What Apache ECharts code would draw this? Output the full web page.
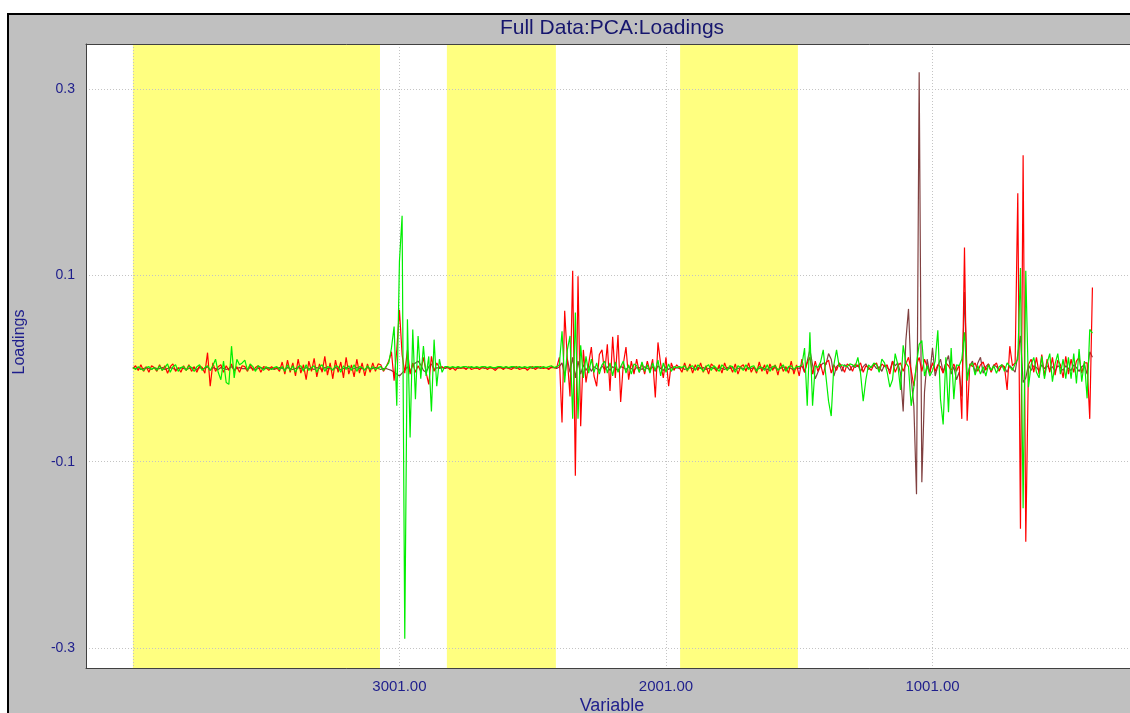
<!DOCTYPE html>
<html>
<head>
<meta charset="utf-8">
<title>Full Data:PCA:Loadings</title>
<script src="https://cdn.jsdelivr.net/npm/echarts@6/dist/echarts.min.js"></script>
<style>
  html, body { margin: 0; padding: 0; background: #ffffff; }
  #chart { width: 1130px; height: 713px; }
</style>
</head>
<body>
<div id="chart"></div>
<script>
// Variables run from 4001 down to 401 in steps of 10.
const firstVariable = 4001;
const variableStep = 10;

// Tick positions on the variable axis and on the loadings axis.
const xGridValues = [4001, 3001, 2001, 1001];
const xLabelValues = [3001, 2001, 1001];
const yTickValues = [-0.3, -0.1, 0.1, 0.3];

// Excluded (shaded) variable ranges.
const excludedRanges = [[4001, 3074], [2823, 2414], [1948, 1506]];

// Loadings, one value per variable (red component).
const loadingRed = [
  0.000, 0.003, -0.002, 0.004, -0.003, 0.002, -0.004, 0.003, 0.001, -0.003,
  0.004, -0.002, 0.003, -0.005, 0.002, 0.005, -0.003, 0.001, -0.004, 0.003,
  -0.002, 0.004, -0.003, 0.002, -0.004, 0.003, 0.001, -0.005, 0.017, -0.019,
  0.006, -0.003, 0.002, 0.004, -0.004, 0.003, -0.002, 0.005, -0.003, 0.002,
  -0.004, 0.003, 0.002, -0.003, 0.004, -0.002, 0.001, 0.003, -0.004, 0.002,
  0.001, -0.002, 0.002, 0.000, 0.001, -0.003, 0.007, -0.006, 0.009, -0.004,
  0.006, -0.008, 0.010, -0.005, 0.004, -0.012, 0.008, -0.003, 0.011, -0.009,
  0.005, -0.004, 0.013, -0.007, 0.006, -0.011, 0.009, -0.004, 0.007, -0.010,
  0.012, -0.006, 0.004, -0.009, 0.010, -0.005, 0.006, -0.008, 0.005, -0.004,
  0.006, -0.003, 0.005, 0.004, -0.003, 0.002, 0.008, 0.018, -0.013, 0.020,
  0.063, 0.015, -0.005, 0.020, -0.006, 0.006, -0.004, 0.003, -0.003, 0.012,
  -0.004, -0.017, 0.013, -0.003, 0.006, 0.001, 0.002, 0.000, 0.002, -0.001,
  0.001, -0.002, 0.002, 0.000, 0.001, -0.001, 0.002, -0.001, 0.000, 0.001,
  -0.001, 0.001, 0.002, -0.001, 0.001, 0.000, -0.002, 0.001, 0.001, -0.001,
  0.002, 0.000, -0.001, 0.001, 0.002, -0.001, 0.000, 0.001, -0.002, 0.001,
  0.002, -0.001, 0.001, 0.002, 0.000, 0.001, -0.001, 0.002, 0.001, 0.001,
  0.012, -0.058, 0.062, 0.010, -0.030, 0.105, -0.115, 0.099, -0.062, 0.020,
  -0.015, 0.005, 0.023, -0.008, -0.019, 0.015, 0.020, -0.005, 0.026, -0.024,
  0.034, -0.010, 0.036, -0.036, 0.005, 0.023, -0.012, 0.008, -0.006, 0.010,
  -0.004, 0.006, -0.006, 0.008, -0.003, 0.010, -0.031, 0.028, 0.005, -0.010,
  0.012, -0.019, 0.006, -0.002, 0.004, 0.001, -0.004, 0.006, -0.003, 0.005,
  -0.005, 0.004, -0.002, 0.006, -0.004, 0.003, -0.006, 0.005, 0.002, -0.003,
  0.004, -0.005, 0.006, -0.002, 0.003, -0.004, 0.005, -0.006, 0.002, 0.004,
  -0.003, 0.006, -0.004, 0.002, -0.005, 0.007, -0.003, 0.004, -0.006, 0.005,
  -0.002, 0.004, -0.007, 0.006, -0.003, 0.002, -0.005, 0.008, -0.006, 0.004,
  -0.008, 0.010, -0.004, 0.006, 0.012, -0.006, 0.008, -0.003, 0.005, -0.007,
  0.006, 0.009, -0.005, 0.004, -0.002, 0.006, 0.002, -0.004, 0.005, 0.003,
  -0.003, 0.005, 0.002, 0.006, -0.004, 0.003, 0.001, -0.002, 0.004, 0.006,
  -0.003, 0.005, 0.002, 0.004, -0.006, 0.008, -0.004, 0.003, 0.006, -0.003,
  0.005, 0.012, -0.002, -0.019, 0.004, 0.012, -0.003, 0.010, 0.002, -0.004,
  0.006, -0.003, 0.004, 0.002, -0.005, 0.006, 0.003, -0.002, 0.005, -0.003,
  0.004, -0.054, 0.130, -0.056, 0.005, 0.002, 0.006, -0.003, 0.004, 0.007,
  -0.002, 0.005, -0.004, 0.003, 0.006, -0.003, 0.004, 0.002, -0.023, 0.024,
  0.003, 0.006, 0.188, -0.172, 0.229, -0.186, 0.004, 0.010, -0.004, 0.012,
  -0.006, 0.015, -0.008, 0.010, -0.004, 0.012, -0.007, 0.009, 0.004, -0.010,
  0.013, -0.006, 0.010, -0.004, 0.008, 0.012, -0.005, 0.006, 0.006, -0.054,
  0.087
];

// Loadings (green component).
const loadingGreen = [
  0.001, -0.001, 0.002, 0.000, -0.002, 0.001, 0.002, -0.001, 0.001, -0.002,
  0.003, -0.002, 0.001, 0.005, -0.004, 0.002, 0.004, -0.003, 0.001, 0.002,
  -0.002, 0.003, 0.001, -0.003, 0.002, 0.004, -0.002, 0.001, 0.003, -0.002,
  0.003, 0.010, -0.004, -0.012, 0.008, -0.015, -0.017, 0.024, -0.010, 0.010,
  0.004, 0.006, 0.009, -0.002, 0.005, 0.002, -0.003, 0.003, 0.001, -0.002,
  0.002, 0.000, -0.001, 0.001, 0.002, -0.001, 0.002, -0.003, 0.004, -0.002,
  0.003, -0.004, 0.002, 0.003, -0.003, 0.004, -0.002, 0.001, 0.003, -0.004,
  0.002, 0.004, -0.003, 0.002, 0.001, -0.002, 0.003, 0.002, -0.004, 0.003,
  -0.001, 0.003, -0.002, 0.004, -0.003, 0.002, 0.001, -0.002, 0.003, -0.001,
  0.002, -0.001, 0.001, 0.002, -0.002, 0.002, 0.006, 0.022, 0.045, -0.040,
  0.115, 0.164, -0.290, 0.053, -0.074, 0.042, -0.033, 0.035, -0.011, 0.024,
  -0.008, 0.013, -0.046, 0.031, -0.019, 0.010, -0.004, 0.002, 0.002, 0.001,
  0.002, 0.001, 0.002, 0.001, 0.002, 0.002, 0.001, 0.002, 0.001, 0.002,
  0.001, 0.002, 0.002, 0.001, 0.002, 0.001, 0.001, 0.002, 0.002, 0.001,
  0.002, 0.001, 0.002, 0.002, 0.001, 0.002, 0.001, 0.002, 0.001, 0.002,
  0.001, 0.002, 0.002, 0.001, 0.002, 0.001, 0.002, 0.003, 0.001, 0.002,
  0.004, 0.040, -0.015, 0.020, 0.035, -0.054, 0.060, -0.054, 0.025, -0.010,
  0.013, -0.005, 0.010, -0.004, 0.006, -0.006, 0.004, 0.008, -0.005, 0.006,
  -0.008, 0.007, -0.004, 0.002, 0.008, -0.005, 0.004, -0.006, 0.005, 0.003,
  -0.004, 0.007, -0.003, 0.004, -0.005, 0.006, -0.002, 0.009, -0.008, 0.006,
  -0.004, 0.005, -0.003, 0.002, 0.001, 0.002, 0.001, 0.003, -0.002, 0.002,
  0.003, -0.002, 0.004, 0.001, -0.003, 0.002, 0.004, -0.002, 0.003, 0.000,
  -0.003, 0.004, 0.001, -0.002, 0.003, 0.002, -0.004, 0.003, 0.001, -0.002,
  0.004, -0.001, 0.002, 0.003, -0.003, 0.002, 0.001, -0.002, 0.004, -0.003,
  0.002, 0.003, -0.002, 0.001, 0.004, -0.003, 0.002, 0.003, -0.001, 0.002,
  0.002, 0.004, 0.022, -0.040, 0.039, -0.040, 0.003, 0.001, 0.007, 0.020,
  -0.008, -0.035, -0.051, 0.004, 0.020, 0.002, 0.004, 0.003, 0.002, 0.005,
  0.004, 0.002, 0.012, -0.005, -0.035, -0.012, 0.004, 0.001, 0.006, 0.004,
  -0.004, 0.010, 0.006, -0.004, -0.020, -0.012, 0.016, 0.004, -0.023, 0.025,
  0.006, 0.002, -0.040, -0.020, 0.005, 0.026, 0.030, -0.008, 0.003, -0.008,
  -0.002, 0.008, 0.041, -0.033, -0.060, 0.012, -0.047, 0.022, -0.033, 0.004,
  0.003, 0.010, 0.039, -0.013, 0.003, 0.006, -0.007, 0.003, -0.006, 0.002,
  -0.008, 0.004, -0.002, 0.003, -0.005, 0.002, 0.004, -0.003, 0.006, 0.002,
  -0.002, 0.005, 0.010, 0.108, -0.150, 0.105, -0.020, 0.004, 0.012, -0.004,
  -0.010, 0.013, -0.011, 0.006, 0.016, -0.014, 0.005, 0.016, -0.006, 0.010,
  -0.011, 0.012, -0.011, 0.016, -0.016, 0.021, -0.014, 0.008, -0.032, 0.042,
  0.038
];

// Loadings (brown component).
const loadingBrown = [
  0.001, 0.000, 0.001, -0.001, 0.000, 0.001, 0.000, -0.001, 0.001, 0.000,
  0.000, 0.001, -0.001, 0.000, 0.001, 0.000, -0.001, 0.000, 0.001, 0.000,
  -0.001, 0.000, 0.001, 0.000, -0.001, 0.001, 0.000, 0.000, 0.002, -0.002,
  0.001, 0.000, -0.001, 0.001, 0.000, -0.001, 0.000, 0.002, -0.001, 0.000,
  0.001, 0.000, 0.000, -0.001, 0.001, 0.000, -0.001, 0.000, 0.001, 0.000,
  0.000, 0.001, 0.000, -0.001, 0.000, 0.001, 0.000, -0.001, 0.001, 0.000,
  -0.001, 0.000, 0.001, 0.000, -0.001, 0.001, 0.000, 0.000, -0.001, 0.001,
  0.000, -0.001, 0.001, 0.000, 0.000, -0.001, 0.001, 0.000, -0.001, 0.000,
  0.001, 0.000, -0.001, 0.000, 0.001, 0.000, 0.000, -0.001, 0.001, 0.000,
  0.000, 0.001, 0.000, -0.001, 0.000, 0.000, -0.001, -0.002, -0.004, -0.006,
  -0.008, -0.005, -0.002, 0.002, -0.004, 0.004, 0.006, 0.008, 0.004, -0.002,
  -0.004, 0.002, 0.005, -0.002, 0.001, 0.000, 0.001, 0.000, 0.001, 0.000,
  0.001, 0.001, 0.000, 0.001, 0.001, 0.000, 0.001, 0.001, 0.001, 0.000,
  0.001, 0.001, 0.000, 0.001, 0.001, 0.001, 0.000, 0.001, 0.001, 0.000,
  0.001, 0.000, 0.001, 0.001, 0.000, 0.001, 0.001, 0.000, 0.001, 0.001,
  0.000, 0.001, 0.001, 0.000, 0.001, 0.001, 0.000, 0.001, 0.001, 0.000,
  0.002, 0.006, -0.008, 0.010, -0.004, 0.012, -0.010, 0.008, -0.006, 0.004,
  -0.002, 0.003, -0.003, 0.002, 0.000, -0.002, 0.003, -0.001, 0.002, -0.002,
  0.002, 0.000, -0.002, 0.002, 0.001, -0.001, 0.002, 0.000, -0.002, 0.001,
  0.001, -0.001, 0.002, 0.000, -0.001, 0.002, -0.003, 0.003, 0.000, -0.002,
  0.002, -0.001, 0.001, 0.000, 0.001, 0.000, 0.001, -0.001, 0.000, 0.001,
  0.000, -0.001, 0.001, 0.000, 0.001, -0.001, 0.000, 0.001, 0.000, -0.001,
  0.001, 0.000, -0.001, 0.001, 0.000, 0.001, -0.001, 0.000, 0.001, 0.000,
  -0.001, 0.001, 0.000, 0.001, -0.001, 0.000, 0.001, 0.000, -0.001, 0.001,
  0.000, 0.001, -0.001, 0.000, 0.002, -0.001, 0.001, 0.000, -0.002, 0.001,
  0.000, 0.003, -0.004, 0.008, 0.020, 0.004, -0.011, -0.004, 0.003, 0.006,
  0.004, 0.016, 0.010, -0.008, 0.002, 0.005, -0.003, 0.004, 0.002, -0.002,
  0.003, 0.001, 0.004, -0.003, 0.002, 0.005, -0.001, 0.002, 0.004, 0.000,
  0.002, -0.003, 0.004, 0.001, -0.002, 0.008, 0.003, 0.006, -0.005, -0.046,
  0.030, 0.064, -0.010, -0.040, -0.135, 0.318, -0.122, -0.025, 0.010, -0.006,
  0.022, -0.008, 0.003, 0.010, -0.004, 0.006, 0.014, -0.006, 0.002, -0.012,
  -0.004, -0.030, 0.082, -0.010, 0.003, 0.008, -0.004, 0.006, 0.012, -0.005,
  0.002, 0.005, -0.003, 0.004, 0.002, -0.002, 0.003, 0.001, -0.004, 0.003,
  0.000, -0.004, 0.015, 0.035, -0.015, -0.010, 0.004, -0.002, 0.003, 0.001,
  -0.002, 0.004, 0.000, 0.003, -0.001, 0.002, -0.003, 0.003, 0.001, -0.002,
  0.003, 0.000, -0.002, 0.004, 0.001, -0.003, 0.002, 0.004, -0.006, 0.018,
  0.012
];

const variables = loadingRed.map((_, i) => firstVariable - variableStep * i);
const toPairs = (values) => values.map((v, i) => [variables[i], v]);

const navy = '#1e1e8c';
const titleNavy = '#16166e';
const gridColor = '#c4c4c4';
const fontFamily = '"Liberation Sans", Arial, sans-serif';

const chart = echarts.init(document.getElementById('chart'), null, { renderer: 'canvas' });

chart.setOption({
  animation: false,
  backgroundColor: '#ffffff',
  grid: {
    left: 86, right: 0, top: 44, bottom: 45,
    show: true,
    backgroundColor: '#ffffff',
    borderWidth: 0
  },
  graphic: [
    {
      type: 'rect', z: -10, silent: true,
      shape: { x: 8, y: 14, width: 1200, height: 800 },
      style: { fill: '#c0c0c0', stroke: '#000000', lineWidth: 2 }
    },
    {
      type: 'text', z: 10, silent: true, x: 612, y: 28,
      style: {
        text: 'Full Data:PCA:Loadings', fill: titleNavy,
        font: '21px ' + fontFamily,
        align: 'center', verticalAlign: 'middle',
        textAlign: 'center', textVerticalAlign: 'middle'
      }
    },
    {
      type: 'text', z: 10, silent: true, x: 20, y: 342, rotation: Math.PI / 2,
      style: {
        text: 'Loadings', fill: navy,
        font: '16px ' + fontFamily,
        align: 'center', verticalAlign: 'middle',
        textAlign: 'center', textVerticalAlign: 'middle'
      }
    },
    {
      type: 'text', z: 10, silent: true, x: 612, y: 706,
      style: {
        text: 'Variable', fill: navy,
        font: '18px ' + fontFamily,
        align: 'center', verticalAlign: 'middle',
        textAlign: 'center', textVerticalAlign: 'middle'
      }
    }
  ],
  xAxis: [
    {
      type: 'value', inverse: true, min: 260, max: 4177, z: 3,
      axisLine: { show: true, onZero: false, lineStyle: { color: '#404040', width: 1 } },
      axisTick: { show: false, customValues: xGridValues },
      axisLabel: {
        customValues: xLabelValues, color: navy, fontSize: 15, margin: 11,
        fontFamily: fontFamily,
        formatter: (v) => v.toFixed(2)
      },
      splitLine: { show: true, lineStyle: { color: gridColor, type: [1, 2], width: 1 } }
    },
    {
      type: 'value', position: 'top', inverse: true, min: 260, max: 4177, z: 3,
      axisLine: { show: true, onZero: false, lineStyle: { color: '#404040', width: 1 } },
      axisTick: { show: false }, axisLabel: { show: false }, splitLine: { show: false }
    }
  ],
  yAxis: {
    type: 'value', min: -0.3214, max: 0.3483, z: 3,
    axisLine: { show: true, onZero: false, lineStyle: { color: '#404040', width: 1 } },
    axisTick: { show: false, customValues: yTickValues },
    axisLabel: {
      customValues: yTickValues, color: navy, fontSize: 14, margin: 11,
      fontFamily: fontFamily,
      formatter: (v) => String(v)
    },
    splitLine: { show: true, lineStyle: { color: gridColor, type: [1, 2], width: 1 } }
  },
  series: [
    {
      name: 'excluded', type: 'line', z: 1, data: [], silent: true,
      markArea: {
        silent: true,
        itemStyle: { color: '#ffff80', opacity: 1 },
        data: excludedRanges.map(([a, b]) => [{ xAxis: a }, { xAxis: b }])
      }
    },
    {
      name: 'brown', type: 'line', z: 5, data: toPairs(loadingBrown),
      showSymbol: false,
      lineStyle: { color: '#804040', width: 1.2 }, itemStyle: { color: '#804040' }
    },
    {
      name: 'red', type: 'line', z: 6, data: toPairs(loadingRed),
      showSymbol: false,
      lineStyle: { color: '#ff0000', width: 1.2 }, itemStyle: { color: '#ff0000' }
    },
    {
      name: 'green', type: 'line', z: 7, data: toPairs(loadingGreen),
      showSymbol: false,
      lineStyle: { color: '#00ee00', width: 1.2 }, itemStyle: { color: '#00ee00' }
    }
  ]
});
</script>
</body>
</html>
